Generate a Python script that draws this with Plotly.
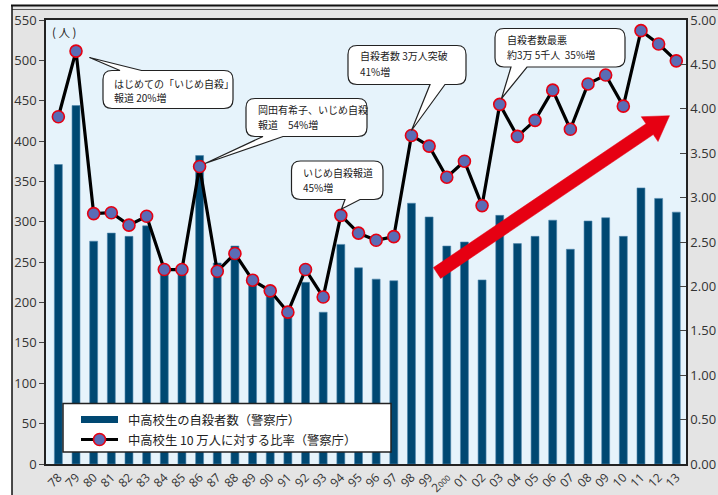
import numpy as np
import plotly.graph_objects as go

# ---------------- data ----------------
years = ["78", "79", "80", "81", "82", "83", "84", "85", "86", "87", "88", "89",
         "90", "91", "92", "93", "94", "95", "96", "97", "98", "99", "00", "01",
         "02", "03", "04", "05", "06", "07", "08", "09", "10", "11", "12", "13"]
tick_labels = ["78", "79", "80", "81", "82", "83", "84", "85", "86", "87", "88", "89",
               "90", "91", "92", "93", "94", "95", "96", "97", "98", "99",
               "2<span style='font-size:8px'>000</span>", "01",
               "02", "03", "04", "05", "06", "07", "08", "09", "10", "11", "12", "13"]
suicides = [371, 444, 276, 286, 282, 295, 241, 241, 382, 249, 270, 223,
            213, 188, 225, 188, 272, 243, 229, 227, 323, 306, 270, 275,
            228, 308, 273, 282, 302, 266, 301, 305, 282, 342, 329, 312]
rate = [3.91, 4.65, 2.82, 2.83, 2.69, 2.79, 2.19, 2.19, 3.35, 2.17, 2.37, 2.07,
        1.95, 1.71, 2.19, 1.88, 2.80, 2.60, 2.52, 2.56, 3.70, 3.58, 3.23, 3.41,
        2.91, 4.05, 3.69, 3.87, 4.21, 3.77, 4.28, 4.38, 4.03, 4.88, 4.73, 4.54]
left_ticks = list(range(0, 551, 50))
right_ticks = [0, 0.5, 1, 1.5, 2, 2.5, 3, 3.5, 4, 4.5, 5]

bar_name = "中高校生の自殺者数（警察庁）"
line_name = "中高校生 10 万人に対する比率（警察庁）"
callouts = [
    ["はじめての「いじめ自殺」", "報道 20%増"],
    ["岡田有希子、いじめ自殺", "報道　54%増"],
    ["いじめ自殺報道", "45%増"],
    ["自殺者数 3万人突破", "41%増"],
    ["自殺者数最悪", "約3万 5千人  35%増"],
]

# ---------------- layout geometry (pixels) ----------------
W, H = 718, 495
L, R, T, B = 46, 32, 20, 31
PW, PH = W - L - R, H - T - B


def px(x):
    return (x - L) / PW


def py(y):
    return (H - B - y) / PH


BAR_COLOR = "#004872"
MK_FILL = "#5a6cb5"
MK_LINE = "#e60012"
JP = "Noto Sans CJK JP"
NUM = "Open Sans, Noto Sans CJK JP"

fig = go.Figure()
fig.add_trace(go.Bar(x=years, y=suicides, name=bar_name, marker_color=BAR_COLOR,
                     marker_line=dict(width=0.6, color="#4f86ad"), width=0.45, yaxis="y"))
fig.add_trace(go.Scatter(x=years, y=rate, name=line_name, mode="lines+markers",
                         line=dict(color="black", width=3.2),
                         marker=dict(size=12, color=MK_FILL, line=dict(color=MK_LINE, width=1.6)),
                         yaxis="y2"))

shapes = []
annotations = []

# white outside strips, frame lines
shapes.append(dict(type="rect", xref="paper", yref="paper", x0=px(-5), x1=px(12), y0=py(H + 5), y1=py(-5),
                   fillcolor="white", line_width=0, layer="below"))
shapes.append(dict(type="rect", xref="paper", yref="paper", x0=px(-5), x1=px(W + 5), y0=py(5), y1=py(-5),
                   fillcolor="white", line_width=0, layer="below"))
shapes.append(dict(type="line", xref="paper", yref="paper", x0=px(11), x1=px(W + 5), y0=py(5.5), y1=py(5.5),
                   line=dict(color="#111", width=2)))
shapes.append(dict(type="line", xref="paper", yref="paper", x0=px(12), x1=px(W + 5), y0=py(9.5), y1=py(9.5),
                   line=dict(color="#555", width=1)))
shapes.append(dict(type="line", xref="paper", yref="paper", x0=px(12), x1=px(12), y0=py(5), y1=py(H + 5),
                   line=dict(color="#111", width=1.5)))


def callout(x0, y0, x1, y1, r, edge, ba, bb, tip):
    def P(x, y):
        return f"{px(x):.5f},{py(y):.5f}"
    d = f"M{P(x0 + r, y0)}"
    if edge == "top":
        d += f" L{P(ba, y0)} L{P(tip[0], tip[1])} L{P(bb, y0)}"
    d += f" L{P(x1 - r, y0)} Q{P(x1, y0)} {P(x1, y0 + r)}"
    d += f" L{P(x1, y1 - r)} Q{P(x1, y1)} {P(x1 - r, y1)}"
    if edge == "bottom":
        d += f" L{P(bb, y1)} L{P(tip[0], tip[1])} L{P(ba, y1)}"
    d += f" L{P(x0 + r, y1)} Q{P(x0, y1)} {P(x0, y1 - r)}"
    d += f" L{P(x0, y0 + r)} Q{P(x0, y0)} {P(x0 + r, y0)} Z"
    return dict(type="path", xref="paper", yref="paper", path=d, fillcolor="white",
                line=dict(color="#222", width=1.2), layer="above")


boxes = [
    # x0, y0, x1, y1, edge, base a, base b, tip, text x, line ys
    (103, 70.5, 233, 108.5, "top", 120, 141.5, (89.5, 57.5), 112, (83.0, 98.0)),
    (246, 98.5, 367, 136.5, "bottom", 263, 283, (205, 163.5), 255.5, (109.5, 124.5)),
    (291.5, 161, 383, 199.5, "bottom", 345, 360, (341.5, 209), 301, (172.5, 187.5)),
    (348, 45.5, 466, 84.5, "bottom", 430, 445, (411.5, 130.5), 358, (56.0, 71.0)),
    (495, 28.5, 625, 67, "bottom", 511, 527, (501.5, 98.5), 504.5, (39.0, 54.0)),
]
for (x0, y0, x1, y1, edge, ba, bb, tip, tx, lys), lines in zip(boxes, callouts):
    shapes.append(callout(x0, y0, x1, y1, 9, edge, ba, bb, tip))
    for ly, txt in zip(lys, lines):
        annotations.append(dict(xref="paper", yref="paper", x=px(tx), y=py(ly), text=txt,
                                showarrow=False, xanchor="left", yanchor="middle",
                                font=dict(family=JP, size=10, color="#222")))

# red trend arrow (decoration)
tail = np.array([437.0, 273.0])
tip = np.array([669.5, 115.7])
u = (tip - tail) / np.linalg.norm(tip - tail)
p = np.array([-u[1], u[0]])
w, hl, hw = 6.5, 24.0, 15.0
bc = tip - hl * u
poly = [tail + w * p, bc + w * p, bc + hw * p, tip, bc - hw * p, bc - w * p, tail - w * p]
d = "M" + " L".join(f"{px(a):.5f},{py(b):.5f}" for a, b in poly) + " Z"
shapes.append(dict(type="path", xref="paper", yref="paper", path=d, fillcolor="#e60012",
                   line=dict(color="#e60012", width=0.5), layer="above"))

# legend (drawn manually to match the wide swatches)
shapes.append(dict(type="rect", xref="paper", yref="paper", x0=px(63), x1=px(391), y0=py(452), y1=py(403.5),
                   fillcolor="white", line=dict(color="#222", width=1.5), layer="above"))
shapes.append(dict(type="rect", xref="paper", yref="paper", x0=px(81), x1=px(118), y0=py(423), y1=py(416),
                   fillcolor=BAR_COLOR, line_width=0, layer="above"))
shapes.append(dict(type="line", xref="paper", yref="paper", x0=px(81), x1=px(118), y0=py(439.5), y1=py(439.5),
                   line=dict(color="black", width=3.2), layer="above"))
shapes.append(dict(type="circle", xref="paper", yref="paper", x0=px(93.5), x1=px(105.5), y0=py(445.5), y1=py(433.5),
                   fillcolor=MK_FILL, line=dict(color=MK_LINE, width=1.6), layer="above"))
for ly, txt in [(419.5, bar_name), (439.5, line_name)]:
    annotations.append(dict(xref="paper", yref="paper", x=px(126), y=py(ly), text=txt, showarrow=False,
                            xanchor="left", yanchor="middle", font=dict(family=JP, size=12.3, color="#222")))

# unit label
annotations.append(dict(xref="paper", yref="paper", x=px(50), y=py(31.5), text="( 人 )", showarrow=False,
                        xanchor="left", yanchor="middle", font=dict(family=JP, size=11.5, color="#222")))

fig.update_layout(
    width=W, height=H,
    margin=dict(l=L, r=R, t=T, b=B, pad=0, autoexpand=False),
    paper_bgcolor="#e4e4e4",
    plot_bgcolor="#e6f3fb",
    showlegend=False,
    bargap=0.55,
    font=dict(family=NUM, color="#333"),
    xaxis=dict(type="category", range=[-0.7, 35.55], tickvals=years, ticktext=tick_labels,
               tickangle=-45, tickfont=dict(family=NUM, size=12, color="#333"),
               showline=True, linecolor="#222", linewidth=1.5, mirror=True, automargin=False,
               ticks="", showgrid=False, zeroline=False),
    yaxis=dict(range=[0, 550], tickvals=left_ticks, showline=True, linecolor="#222", linewidth=1.5,
               mirror=True, ticks="outside", ticklen=5, tickcolor="#444", automargin=False,
               tickfont=dict(family=NUM, size=13, color="#333"),
               showgrid=False, zeroline=False),
    yaxis2=dict(range=[0, 5], tickvals=right_ticks, tickformat=".2f", overlaying="y", side="right",
                showline=True, linecolor="#222", linewidth=1.5, ticks="inside", ticklen=6, tickcolor="#444",
                tickfont=dict(family=NUM, size=13, color="#333"), automargin=False,
                showgrid=False, zeroline=False),
    shapes=shapes,
    annotations=annotations,
)

fig.write_html("out.html", config={"displayModeBar": False},
               post_script="document.body.style.margin='0';document.body.style.overflow='hidden';")
